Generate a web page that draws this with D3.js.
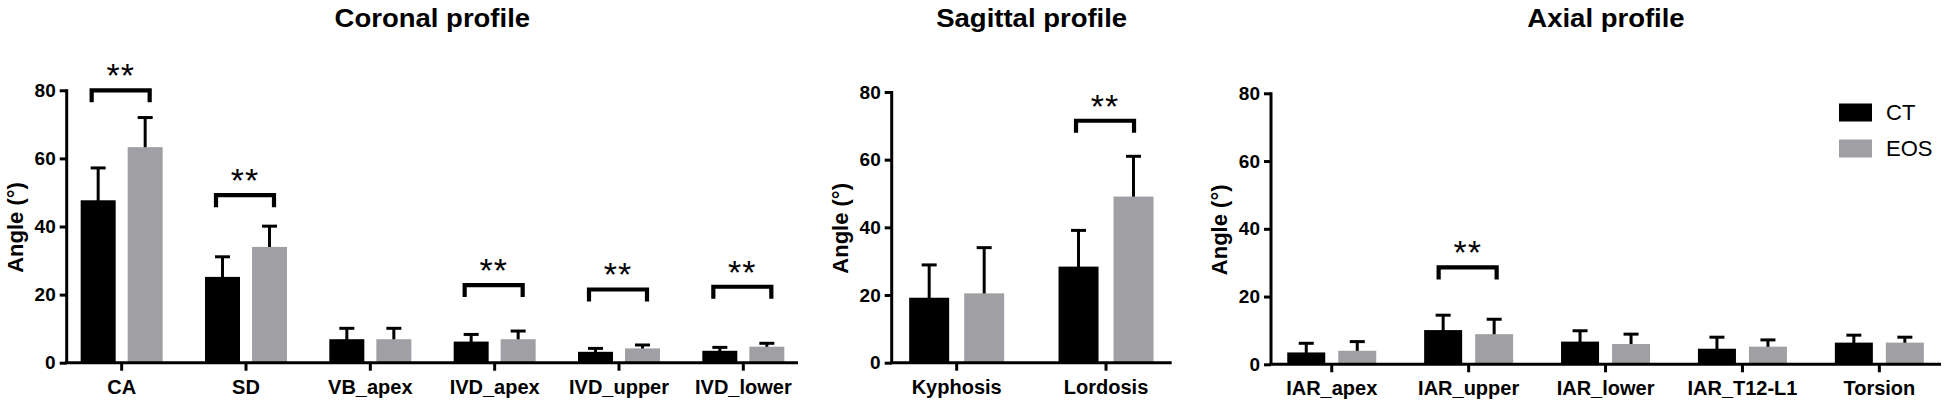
<!DOCTYPE html>
<html>
<head>
<meta charset="utf-8">
<script src="https://cdn.jsdelivr.net/npm/d3@7/dist/d3.min.js"></script>
<style>
  html, body { margin: 0; padding: 0; background: #fff; }
  svg { display: block; font-family: "Liberation Sans", Arial, sans-serif; }
</style>
</head>
<body>
<svg id="chart" width="1946" height="408"></svg>
<script>
// ---------- DATA ----------
const seriesNames = ["CT", "EOS"];
const yTicks = [0, 20, 40, 60, 80];

const coronalCats   = ["CA", "SD", "VB_apex", "IVD_apex", "IVD_upper", "IVD_lower"];
const coronalCT     = [47.7, 25.2, 6.9, 6.2, 3.2, 3.5];
const coronalCTErr  = [9.5, 5.9, 3.2, 2.1, 1.0, 1.0];
const coronalEOS    = [63.3, 34.0, 6.9, 6.9, 4.2, 4.7];
const coronalEOSErr = [8.7, 6.1, 3.2, 2.4, 1.0, 1.0];
const coronalSigCats = ["CA", "SD", "IVD_apex", "IVD_upper", "IVD_lower"];
const coronalSigLevel = [80.0, 49.2, 22.8, 21.5, 22.3];

const sagittalCats   = ["Kyphosis", "Lordosis"];
const sagittalCT     = [19.2, 28.4];
const sagittalCTErr  = [9.7, 10.7];
const sagittalEOS    = [20.5, 49.1];
const sagittalEOSErr = [13.5, 11.9];
const sagittalSigCats = ["Lordosis"];
const sagittalSigLevel = [71.5];

const axialCats   = ["IAR_apex", "IAR_upper", "IAR_lower", "IAR_T12-L1", "Torsion"];
const axialCT     = [3.5, 10.1, 6.7, 4.6, 6.4];
const axialCTErr  = [2.7, 4.4, 3.2, 3.4, 2.2];
const axialEOS    = [4.0, 8.9, 6.0, 5.2, 6.4];
const axialEOSErr = [2.7, 4.4, 2.9, 2.0, 1.6];
const axialSigCats = ["IAR_upper"];
const axialSigLevel = [28.6];

const titles = ["Coronal profile", "Sagittal profile", "Axial profile"];
const yLabel = "Angle (°)";
const sigLabel = "**";

// ---------- STYLE / LAYOUT ----------
const colors = { CT: "#000000", EOS: "#a0a0a4" };
const svg = d3.select("#chart");

const panels = [
  { title: titles[0], cats: coronalCats, ct: coronalCT, ctErr: coronalCTErr, eos: coronalEOS, eosErr: coronalEOSErr,
    sigCats: coronalSigCats, sigLevel: coronalSigLevel,
    axisX: 66.7, axisEnd: 798, y0: 362.7, y80: 90.3, band: [59.5, 805.5], barW: 35, off: 6 },
  { title: titles[1], cats: sagittalCats, ct: sagittalCT, ctErr: sagittalCTErr, eos: sagittalEOS, eosErr: sagittalEOSErr,
    sigCats: sagittalSigCats, sigLevel: sagittalSigLevel,
    axisX: 891.7, axisEnd: 1171.7, y0: 362.7, y80: 92, band: [882, 1180.7], barW: 40, off: 7.5 },
  { title: titles[2], cats: axialCats, ct: axialCT, ctErr: axialCTErr, eos: axialEOS, eosErr: axialEOSErr,
    sigCats: axialSigCats, sigLevel: axialSigLevel,
    axisX: 1271, axisEnd: 1941, y0: 364.3, y80: 93.3, band: [1263.3, 1947.8], barW: 38, off: 6.5 }
];

panels.forEach(p => {
  const g = svg.append("g");
  const y = d3.scaleLinear().domain([0, 80]).range([p.y0, p.y80]);
  const x = d3.scaleBand().domain(p.cats).range(p.band);
  const cx = c => x(c) + x.bandwidth() / 2;

  // bars
  const rows = p.cats.map((c, i) => ({ c, ct: p.ct[i], ctErr: p.ctErr[i], eos: p.eos[i], eosErr: p.eosErr[i] }));
  const barData = [];
  rows.forEach(r => {
    barData.push({ c: r.c, s: "CT", v: r.ct, e: r.ctErr, x0: cx(r.c) - p.off - p.barW });
    barData.push({ c: r.c, s: "EOS", v: r.eos, e: r.eosErr, x0: cx(r.c) + p.off });
  });

  // error bars (upper only)
  const eb = g.append("g").attr("stroke", "#000").attr("stroke-width", 3).attr("fill", "none");
  barData.forEach(d => {
    const xc = d.x0 + p.barW / 2;
    eb.append("line").attr("x1", xc).attr("x2", xc).attr("y1", y(d.v) + 2).attr("y2", y(d.v + d.e));
    eb.append("line").attr("x1", xc - 7.5).attr("x2", xc + 7.5).attr("y1", y(d.v + d.e)).attr("y2", y(d.v + d.e));
  });

  g.append("g").selectAll("rect").data(barData).join("rect")
    .attr("x", d => d.x0)
    .attr("y", d => y(d.v))
    .attr("width", p.barW)
    .attr("height", d => y(0) - y(d.v))
    .attr("fill", d => colors[d.s]);

  // y axis
  const yAxis = d3.axisLeft(y).tickValues(yTicks).tickSize(7).tickPadding(4);
  const ya = g.append("g").attr("transform", `translate(${p.axisX},0)`).call(yAxis);
  ya.select(".domain").attr("stroke", "#000").attr("stroke-width", 3).attr("d", `M-0,${p.y80 - 1}V${p.y0}`);
  ya.selectAll(".tick line").attr("stroke", "#000").attr("stroke-width", 3);
  ya.selectAll(".tick text").attr("font-size", 19).attr("font-weight", "bold").attr("fill", "#000")
    .attr("font-family", "Liberation Sans, Arial, sans-serif");

  // x axis
  const xAxis = d3.axisBottom(x).tickSize(8).tickPadding(9);
  const xa = g.append("g").attr("transform", `translate(0,${p.y0})`).call(xAxis);
  xa.select(".domain").attr("stroke", "#000").attr("stroke-width", 3).attr("d", `M${p.axisX - 1.5},0H${p.axisEnd}`);
  xa.selectAll(".tick line").attr("stroke", "#000").attr("stroke-width", 3);
  xa.selectAll(".tick text").attr("font-size", 20).attr("font-weight", "bold").attr("fill", "#000")
    .attr("font-family", "Liberation Sans, Arial, sans-serif");

  // y label
  g.append("text")
    .attr("transform", `translate(${p.axisX - 44},${(p.y0 + p.y80) / 2 + 1}) rotate(-90)`)
    .attr("text-anchor", "middle")
    .attr("font-size", 22).attr("font-weight", "bold")
    .text(yLabel);

  // title (slightly stretched horizontally like the reference)
  g.append("text")
    .attr("transform", `translate(${(p.axisX + p.axisEnd) / 2},26.5) scale(1.1,1)`)
    .attr("text-anchor", "middle")
    .attr("font-size", 25).attr("font-weight", "bold")
    .text(p.title);

  // significance brackets
  p.sigCats.forEach((c, i) => {
    const yl = y(p.sigLevel[i]);
    const xl = cx(c) - 30, xr = cx(c) + 28;
    g.append("path")
      .attr("d", `M${xl},${yl + 12}V${yl}H${xr}V${yl + 12}`)
      .attr("fill", "none").attr("stroke", "#000").attr("stroke-width", 4.2);
    g.append("text")
      .attr("x", cx(c) - 1)
      .attr("y", yl - 3)
      .attr("text-anchor", "middle")
      .attr("font-size", 34).attr("letter-spacing", 1)
      .text(sigLabel);
  });
});

// legend
const leg = svg.append("g");
seriesNames.forEach((s, i) => {
  leg.append("rect").attr("x", 1839).attr("y", 103.5 + i * 36).attr("width", 33).attr("height", 18).attr("fill", colors[s]);
  leg.append("text").attr("x", 1886).attr("y", 119.5 + i * 36).attr("font-size", 22).text(s);
});
</script>
</body>
</html>
